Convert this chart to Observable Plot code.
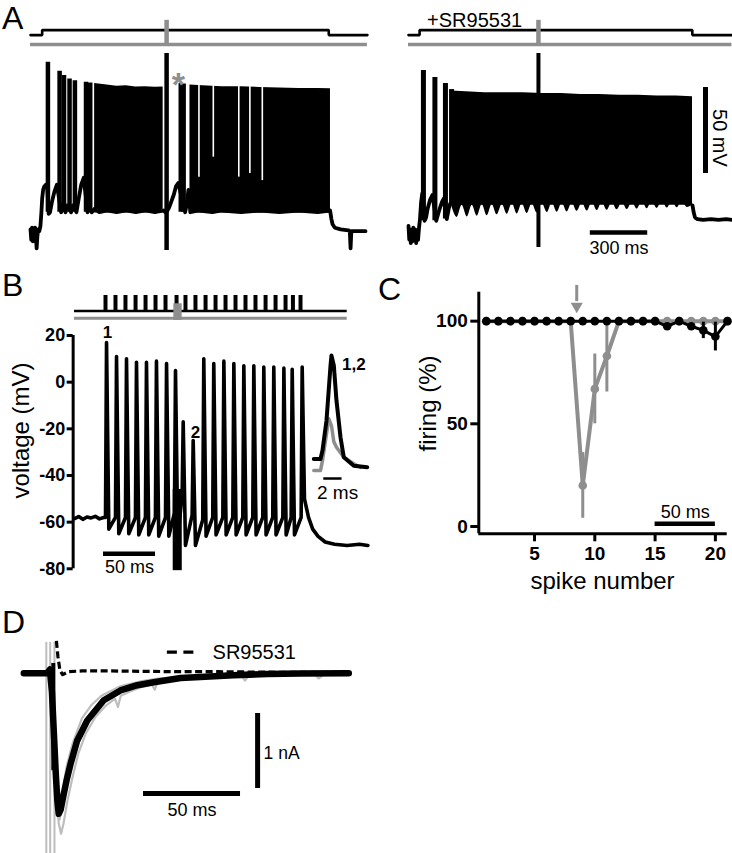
<!DOCTYPE html>
<html><head><meta charset="utf-8">
<script src="https://cdn.jsdelivr.net/npm/d3@7"></script>
<script src="https://cdn.jsdelivr.net/npm/@observablehq/plot@0.6"></script>
<style>
html,body{margin:0;padding:0;background:#fff;}
#fig{position:relative;width:732px;height:853px;overflow:hidden;font-family:"Liberation Sans",Arial,Helvetica,sans-serif;}
#fig svg{position:absolute;left:0;top:0;}
.letter{position:absolute;font-size:32px;line-height:1;color:#000;z-index:5;}
</style></head><body>
<div id="fig">
<div class="letter" style="left:2px;top:2px">A</div>
<div class="letter" style="left:2px;top:269px">B</div>
<div class="letter" style="left:378px;top:273px">C</div>
<div class="letter" style="left:2px;top:606px">D</div>
</div>
<script>
// ================= DATA =================
// ---- Panel A: command (0 = holding, 1 = step) ----
const aLeftCmdT = [0, 61, 61, 1558, 1558, 1760];
const aLeftCmdLevel = [0, 0, 1, 1, 0, 0];
const aRightCmdT = [0, 58, 58, 1483, 1483, 1690];
const aRightCmdLevel = [0, 0, 1, 1, 0, 0];
const aLeftStimT = 711;
const aRightStimT = 679;

// ---- Panel A left: membrane potential (ms, mV) ----
const aLeftTraceT = [0,4,8,12,16,20,24,28,32,36,40,46,52,57,61,66,72,80,88,
  95,102,112,125,138, 160,168,183,192, 212,222,240,252,265,278,
  298,305,320,335,360,400,450,500,550,600,650,695,705,
  716,725,735,748,760,772, 808,815,825,835,880,950,1000,1100,1200,1300,1400,1500,1565,
  1572,1578,1590,1620,1660,1668,1672,1676,1700,1750];
const aLeftTraceV = [-76,-82,-75,-83,-76,-82,-75,-80,-87,-80,-76,-77,-74,-66,-58,-53,-51,-50,-52,
  -67,-66,-60,-54,-50, -66,-62,-66,-62, -66,-62,-66,-58,-50,-46,
  -66,-63,-66,-64,-66,-65,-66,-65,-66,-65,-66,-65,-66,
  -65,-63,-60,-56,-51,-49, -66,-62,-53,-66,-65,-66,-65,-66,-65,-66,-65,-66,-65,
  -70,-73,-75,-76,-76.5,-77,-87,-77,-77,-77];
const aLeftSpikeT = [91, 152, 175, 204, 232, 290, 312, 785, 800];
const aLeftSpikePeak = [21.2, 16, 13.5, 11.5, 10.5, 9.6, 9.2, 8.8, 8.5];
const aLeftBlock1T = [335, 400, 450, 500, 550, 600, 650, 693];
const aLeftBlock1Top = [8.8, 8, 7.2, 7.5, 6.8, 7, 6.6, 6.8];
const aLeftBlock2T = [833, 900, 1000, 1100, 1200, 1300, 1400, 1500, 1567];
const aLeftBlock2Top = [8, 7.5, 7, 7, 6.5, 6.2, 6, 6, 5.8];
const aLeftGapT = [880, 955, 1088, 1146, 1211];
const aLeftGapLow = [-45.6, -34, -45.6, -43.5, -47.6];

// ---- Panel A right (+SR95531) ----
const aRightTraceT = [0,4,8,12,16,20,25,30,35,40,45,50,55,60,66,72, 84,92,100,112,125, 145,160,175,185, 200,210,218,
  1484,1490,1497,1510,1540,1580,1620,1660,1693];
const aRightTraceV = [-74,-82,-76,-84,-77,-83,-75,-82,-76,-84,-77,-82,-75,-70,-60,-55, -71,-69,-64,-59,-56, -71,-65,-60,-58, -70,-64,-61,
  -62,-66,-69,-70,-70.5,-70,-70.5,-70,-70.5];
const aRightSpikeT = [78, 138, 193, 225];
const aRightSpikePeak = [16.4, 12.3, 8.8, 5.3];
const aRightSpikeBase = [-71, -71, -70, -62];
const aRightBlockT = [225, 300, 400, 500, 600, 700, 800, 900, 1000, 1100, 1200, 1300, 1400, 1484];
const aRightBlockTop = [4.5, 4, 3.5, 3.5, 3.5, 3, 3, 2.5, 2.5, 2, 2, 1.5, 1.5, 1.2];
const aRightFloorT = [225,254,280,307,333,359,385,411,437,463,490,516,542,568,594,620,646,672,699,725,751,777,803,829,855,881,908,934,960,986,1012,1038,1064,1090,1117,1143,1169,1195,1221,1247,1273,1299,1326,1352,1378,1404,1430,1456,1484];
const aRightFloorV = [-62,-69,-62,-68.8,-62,-68.3,-61.5,-68,-61.5,-67.5,-61.5,-67.2,-61,-67,-61,-66.8,-61,-66.5,-61,-66.2,-60.5,-66,-60.5,-65.8,-60.5,-65.5,-60.5,-65.3,-60,-65,-60,-64.8,-60,-64.6,-60,-64.4,-60,-64.2,-59.5,-64,-59.5,-63.8,-59.5,-63.6,-59.5,-63.4,-59.5,-63.2,-62];
const aRightBarMv = {t: 1552, lo: -43.5, hi: 6.5};
const aRightBarMs = {v: -77.8, from: 950, to: 1250};

// ---- Panel B ----
const bStimT = [29.8, 39.4, 49, 58.7, 68.3, 77.9, 87.5, 98.1, 106.7, 116.3, 126, 135.6, 145.2, 154.8, 164.4, 174, 183.7, 193.3, 202.9, 210, 217.3];
const bIpscStim = {from: 95.5, to: 103.5};
const bPreT = [0, 4, 8, 12, 16, 20, 24, 28];
const bPreV = [-58.5, -57.6, -58.8, -57.8, -58.2, -57.5, -58.6, -58];
const bSpikeT = [30.8, 40.4, 50, 59.6, 69.2, 78.8, 88.5, 97.1, 104.5, 114.1, 124.3, 133.9, 143.6, 153.2, 162.8, 172.4, 182, 191.6, 201.3, 209.3, 218.9];
const bPeak = [17, 11, 10, 8.5, 8.5, 9, 8, 5, -17, -25, 10, 8, 9, 8, 7, 7, 6.5, 6.5, 6, 5.5, 6.5];
const bThreshold = [-58, -58, -58, -58, -58, -58, -58, -56, -48, -57, -59, -58, -58, -58, -58, -58, -58, -58, -58, -58, -58];
const bTrough = [-63, -65, -65, -65.5, -65.5, -66, -66, -67, -70, -70, -66, -65.5, -65.5, -65.5, -65.5, -65.5, -65.5, -65.5, -65.5, -65.5, -50];
const bPostT = [225, 229, 234, 241, 250, 262, 274, 282];
const bPostV = [-58, -63, -66, -68.5, -69.5, -70, -69.5, -70];
const bArtifact = {t1: 94.9, t2: 103.6, v1: -80.8, v2: -46};
const bYTicks = [-80, -60, -40, -20, 0, 20];
const bAxisT = -1.3;
const bBar = {v: -73.5, from: 27.9, to: 77.9};
// inset (ms from inset start, mV)
const bInsetBlackT = [0, 0.73, 0.95, 1.39, 1.83, 1.93, 2.19, 2.48, 2.92, 3.28, 4.37, 5.84];
const bInsetBlackV = [-32.9, -32.9, -29.3, -16.4, 7.2, 11.4, 7.2, -7.9, -23.6, -32.2, -35.8, -36.5];
const bInsetGrayT = [0, 0.73, 0.95, 1.28, 1.64, 1.93, 2.19, 2.48, 3.28, 4.37, 5.1];
const bInsetGrayV = [-37.9, -37.9, -33.6, -25, -15.7, -18.6, -25.5, -27.9, -32.2, -35, -36.5];
const bInsetBar = {v: -41.3, from: 1.09, to: 3.09};

// ---- Panel C ----
const cSpikeNumber = [1,2,3,4,5,6,7,8,9,10,11,12,13,14,15,16,17,18,19,20,21];
const cGrayFiring = [100,100,100,100,100,100,100,100,20,67,83,100,100,100,100,100,100,100,100,100,100];
const cGraySem = [0,0,0,0,0,0,0,0,16,17,17.5,0,0,0,0,0,0,0,0,0,0];
const cBlackFiring = [100,100,100,100,100,100,100,100,100,100,100,100,100,100,100,97.5,100,97.5,95.5,92.5,100];
const cBlackSem = [0,0,0,0,0,0,0,0,0,0,0,0,0,0,0,0,0,0,4,7,0];
const cYTicks = [0, 50, 100];
const cXTicks = [5, 10, 15, 20];
const cArrow = {x: 8.5, top: 117.4, bottom: 109.5, head: 107.3};
const cBar = {v: 1.3, from: 15, to: 20};

// ---- Panel D (ms, nA) ----
const dBlackT = [0, 6, 12, 13.5, 14.5, 15.5, 16.5, 17.3, 18, 19, 20.6, 22.3, 24.1, 27.5, 32.7, 41.2, 49.8, 58.5, 67, 80.8, 91, 108, 125.5, 142.6, 167.5];
const dBlackI = [0, 0, 0, 0.05, -0.25, -0.8, -1.35, -1.7, -1.875, -1.82, -1.61, -1.4, -1.21, -0.9, -0.63, -0.36, -0.23, -0.16, -0.12, -0.065, -0.05, -0.027, -0.01, -0.005, 0];
const dGray1T = [0, 12, 13.5, 15, 16.5, 18, 19.2, 20.5, 22.5, 25, 28, 32, 37, 42, 47, 48.5, 50, 55, 60, 66, 67.5, 69, 75, 85, 95, 105, 112, 114, 116, 125, 140, 150, 152, 155, 165, 167.5];
const dGray1I = [0, 0.02, -0.1, -0.6, -1.4, -2.0, -2.14, -2.0, -1.7, -1.4, -1.08, -0.8, -0.58, -0.44, -0.34, -0.45, -0.3, -0.24, -0.19, -0.15, -0.22, -0.12, -0.09, -0.06, -0.05, -0.04, -0.03, -0.1, -0.03, -0.02, -0.01, -0.01, -0.07, -0.01, 0, 0];
const dGray2T = [0, 12, 14, 16, 17.5, 18.5, 20, 22, 25, 30, 35, 40, 50, 60, 70, 90, 120, 167.5];
const dGray2I = [0, 0, -0.3, -1.2, -1.9, -1.95, -1.6, -1.25, -0.95, -0.6, -0.42, -0.3, -0.17, -0.11, -0.07, -0.04, -0.02, 0];
const dStimLinesT = [11.6, 13.6, 15.8];
const dSrT = [16.8, 17.6, 18.6, 20, 23, 30, 45, 60, 80, 100, 120, 140, 167.5];
const dSrI = [0.43, 0.22, 0.04, -0.02, 0.02, 0.03, 0.03, 0.025, 0.02, 0.02, 0.015, 0.01, 0.01];
const dBarNa = {t: 120.5, lo: -1.537, hi: -0.537};
const dBarMs = {i: -1.604, from: 61.7, to: 111.7};
const dLegend = {i: 0.28, from: 74, to: 87.7};

// ================= DRAWING =================
const FONT = '"Liberation Sans", Arial, Helvetica, sans-serif';
const GRAY = "#8e8e8e";
const LIGHT = "#bdbdbd";
const fig = document.getElementById("fig");
const zip = (xs, ys) => xs.map((x, i) => ({x, y: ys[i]}));

function add(opts) {
  const svg = Plot.plot({
    width: 732, height: 853,
    marginLeft: 0, marginRight: 0, marginTop: 0, marginBottom: 0,
    style: {background: "transparent", fontFamily: FONT, overflow: "visible"},
    ...opts
  });
  fig.appendChild(svg);
}

// ---- A left command ----
add({
  x: {domain: [0, 1750], range: [30, 365], axis: null},
  y: {domain: [0, 1], range: [34.6, 29.6], axis: null},
  marks: [
    Plot.ruleY([-1.9], {x1: 0, x2: 1760, stroke: GRAY, strokeWidth: 3.5}),
    Plot.line(zip(aLeftCmdT, aLeftCmdLevel), {x: "x", y: "y", stroke: "black", strokeWidth: 2.6, strokeLinejoin: "miter"}),
    Plot.ruleX([aLeftStimT], {y1: -1.9, y2: 2.95, stroke: GRAY, strokeWidth: 4.5})
  ]
});
// ---- A right command ----
add({
  x: {domain: [0, 1693], range: [408, 732], axis: null},
  y: {domain: [0, 1], range: [34.6, 29.6], axis: null},
  marks: [
    Plot.ruleY([-1.9], {x1: 0, x2: 1690, stroke: GRAY, strokeWidth: 3.5}),
    Plot.line(zip(aRightCmdT, aRightCmdLevel), {x: "x", y: "y", stroke: "black", strokeWidth: 2.6, strokeLinejoin: "miter"}),
    Plot.ruleX([aRightStimT], {y1: -1.9, y2: 2.95, stroke: GRAY, strokeWidth: 4.5}),
    Plot.text(["+SR95531"], {x: 97, y: 3.0, textAnchor: "start", fontSize: 20})
  ]
});
// ---- A left voltage ----
add({
  x: {domain: [0, 1750], range: [30, 365], axis: null},
  y: {domain: [-65, 5], range: [210, 89.6], axis: null},
  marks: [
    Plot.areaY(zip(aLeftBlock1T, aLeftBlock1Top), {x: "x", y1: -66.5, y2: "y", fill: "black"}),
    Plot.areaY(zip(aLeftBlock2T, aLeftBlock2Top), {x: "x", y1: -66.5, y2: "y", fill: "black"}),
    Plot.ruleX(zip(aLeftGapT, aLeftGapLow), {x: "x", y1: "y", y2: 10, stroke: "white", strokeWidth: 1.6}),
    Plot.line(zip(aLeftTraceT, aLeftTraceV), {x: "x", y: "y", stroke: "black", strokeWidth: 3.8}),
    Plot.ruleX(zip(aLeftSpikeT, aLeftSpikePeak), {x: "x", y1: -66, y2: "y", stroke: "black", strokeWidth: 4.5}),
    Plot.ruleX([aLeftStimT], {y1: -88.3, y2: 26.3, stroke: "black", strokeWidth: 4.5}),
    Plot.text(["*"], {x: 773, y: 7.8, fill: GRAY, fontSize: 34, fontWeight: "bold"})
  ]
});
// ---- A right voltage ----
add({
  x: {domain: [0, 1693], range: [408, 732], axis: null},
  y: {domain: [-65, 5], range: [210, 89.6], axis: null},
  marks: [
    Plot.areaY(zip(aRightBlockT, aRightBlockTop), {x: "x", y1: -62, y2: "y", fill: "black"}),
    Plot.areaY(zip(aRightFloorT, aRightFloorV), {x: "x", y1: "y", y2: -56, fill: "black", curve: "monotone-x"}),
    Plot.line(zip(aRightTraceT.slice(0, 28), aRightTraceV.slice(0, 28)), {x: "x", y: "y", stroke: "black", strokeWidth: 3.8}),
    Plot.line(zip(aRightTraceT.slice(28), aRightTraceV.slice(28)), {x: "x", y: "y", stroke: "black", strokeWidth: 3.8}),
    Plot.ruleX(aRightSpikeT.map((t, i) => ({t, lo: aRightSpikeBase[i], hi: aRightSpikePeak[i]})), {x: "t", y1: "lo", y2: "hi", stroke: "black", strokeWidth: 5}),
    Plot.ruleX([aRightStimT], {y1: -86.5, y2: 26.3, stroke: "black", strokeWidth: 4}),
    Plot.ruleX([aRightBarMv], {x: "t", y1: "lo", y2: "hi", stroke: "black", strokeWidth: 5}),
    Plot.text(["50 mV"], {x: 1625, y: -22.8, rotate: 90, fontSize: 20}),
    Plot.ruleY([aRightBarMs], {y: "v", x1: "from", x2: "to", stroke: "black", strokeWidth: 4.5}),
    Plot.text(["300 ms"], {x: 1100, y: -87, fontSize: 18})
  ]
});

// ---- B command ----
add({
  x: {domain: [0, 281.7], range: [74, 367], axis: null},
  y: {domain: [0, 1], range: [310.5, 295], axis: null},
  marks: [
    Plot.ruleY([-0.465], {x1: 0, x2: 262.2, stroke: GRAY, strokeWidth: 3}),
    Plot.ruleY([0], {x1: 0, x2: 262.2, stroke: "black", strokeWidth: 2.6}),
    Plot.ruleX(bStimT, {y1: 0, y2: 1, stroke: "black", strokeWidth: 4}),
    Plot.rect([bIpscStim], {x1: "from", x2: "to", y1: -0.61, y2: 0.465, fill: GRAY})
  ]
});
// ---- B voltage ----
const bTrace = [];
bPreT.forEach((t, i) => bTrace.push({x: t, y: bPreV[i]}));
bSpikeT.forEach((t, i) => {
  bTrace.push({x: t - 1, y: bThreshold[i]});
  bTrace.push({x: t, y: bPeak[i]});
  bTrace.push({x: t + 2.2, y: bTrough[i]});
});
bPostT.forEach((t, i) => bTrace.push({x: t, y: bPostV[i]}));
add({
  marginLeft: 72.65, marginTop: 335, marginBottom: 284.7, marginRight: 365,
  x: {domain: [0, 281.7], range: [74, 367], axis: null},
  y: {domain: [-80, 20], range: [568.3, 335]},
  marks: [
    Plot.ruleX([bAxisT], {y1: -80, y2: 20, stroke: "black", strokeWidth: 3}),
    Plot.axisY({ticks: bYTicks, tickSize: 6, tickPadding: 2, strokeWidth: 3, fontSize: 18, fontWeight: "bold", tickFormat: d => String(d), label: null}),
    Plot.rect([bArtifact], {x1: "t1", x2: "t2", y1: "v1", y2: "v2", fill: "black"}),
    Plot.line(bTrace, {x: "x", y: "y", stroke: "black", strokeWidth: 3.6}),
    Plot.ruleY([bBar], {y: "v", x1: "from", x2: "to", stroke: "black", strokeWidth: 4.5}),
    Plot.text(["50 ms"], {x: 52.9, y: -79.5, fontSize: 18}),
    Plot.text(["1"], {x: 31.7, y: 21.3, fontSize: 17, fontWeight: "bold"}),
    Plot.text(["2"], {x: 116.3, y: -21.6, fontSize: 17, fontWeight: "bold"}),
    Plot.text(["voltage (mV)"], {x: -51.2, y: -20.7, rotate: -90, fontSize: 24})
  ]
});
// ---- B inset ----
add({
  x: {domain: [0, 5.84], range: [313.3, 366.7], axis: null},
  y: {domain: [-80, 20], range: [568.3, 335], axis: null},
  marks: [
    Plot.line(zip(bInsetGrayT, bInsetGrayV), {x: "x", y: "y", stroke: GRAY, strokeWidth: 3.5}),
    Plot.line(zip(bInsetBlackT, bInsetBlackV), {x: "x", y: "y", stroke: "black", strokeWidth: 4}),
    Plot.ruleY([bInsetBar], {y: "v", x1: "from", x2: "to", stroke: "black", strokeWidth: 2.5}),
    Plot.text(["2 ms"], {x: 2.6, y: -47.3, fontSize: 19}),
    Plot.text(["1,2"], {x: 4.38, y: 7.6, fontSize: 17, fontWeight: "bold"})
  ]
});

// ---- C ----
const cGray = cSpikeNumber.map((n, i) => ({n, f: cGrayFiring[i], s: cGraySem[i]}));
const cBlack = cSpikeNumber.map((n, i) => ({n, f: cBlackFiring[i], s: cBlackSem[i]}));
add({
  marginLeft: 478.3, marginRight: 5.3, marginTop: 291.7, marginBottom: 319.7,
  x: {domain: [0.378, 20.98], range: [478.3, 726.7]},
  y: {domain: [-3.56, 114.1], range: [533.3, 291.7]},
  marks: [
    Plot.ruleX([0.378], {y1: -3.56, y2: 114.1, stroke: "black", strokeWidth: 3}),
    Plot.ruleY([-3.56], {x1: 0.378, x2: 20.98, stroke: "black", strokeWidth: 3}),
    Plot.axisY({ticks: cYTicks, tickSize: 8, tickPadding: 3, strokeWidth: 3, fontSize: 19, fontWeight: "bold", label: null}),
    Plot.axisX({ticks: cXTicks, tickSize: 8, tickPadding: 5, strokeWidth: 3, fontSize: 19, fontWeight: "bold", label: null}),
    Plot.ruleX(cGray.filter(d => d.s > 0), {x: "n", y1: d => d.f - d.s, y2: d => d.f + d.s, stroke: GRAY, strokeWidth: 3}),
    Plot.line(cGray, {x: "n", y: "f", stroke: GRAY, strokeWidth: 4}),
    Plot.dot(cGray, {x: "n", y: "f", r: 4.3, fill: GRAY}),
    Plot.ruleX(cBlack.filter(d => d.s > 0), {x: "n", y1: d => d.f - d.s, y2: d => d.f + d.s, stroke: "black", strokeWidth: 3}),
    Plot.line(cBlack, {x: "n", y: "f", stroke: "black", strokeWidth: 3}),
    Plot.dot(cBlack, {x: "n", y: "f", r: 4.3, fill: "black"}),
    Plot.ruleX([cArrow], {x: "x", y1: "bottom", y2: "top", stroke: GRAY, strokeWidth: 3}),
    Plot.dot([cArrow], {x: "x", y: "head", symbol: "triangle", r: 4.5, fill: GRAY, rotate: 180}),
    Plot.ruleY([cBar], {y: "v", x1: "from", x2: "to", stroke: "black", strokeWidth: 4.5}),
    Plot.text(["50 ms"], {x: 17.5, y: 7, fontSize: 18, fontWeight: "normal"}),
    Plot.text(["firing (%)"], {x: -3.79, y: 59.9, rotate: -90, fontSize: 24, fontWeight: "normal"}),
    Plot.text(["spike number"], {x: 10.64, y: -26.5, fontSize: 24, fontWeight: "normal"})
  ]
});

// ---- D ----
add({
  x: {domain: [0, 167.5], range: [23.3, 348.3], axis: null},
  y: {domain: [0, -2], range: [672.7, 822.7], axis: null},
  marks: [
    Plot.ruleX(dStimLinesT, {y1: -2.6, y2: 0.41, stroke: LIGHT, strokeWidth: 2}),
    Plot.line(zip(dGray1T, dGray1I), {x: "x", y: "y", stroke: LIGHT, strokeWidth: 2.2}),
    Plot.line(zip(dGray2T, dGray2I), {x: "x", y: "y", stroke: LIGHT, strokeWidth: 2.2}),
    Plot.line(zip(dBlackT, dBlackI), {x: "x", y: "y", stroke: "black", strokeWidth: 6.5}),
    Plot.ruleX([15.2], {y1: -1.3, y2: 0.13, stroke: "black", strokeWidth: 4}),
    Plot.line(zip(dSrT, dSrI), {x: "x", y: "y", stroke: "black", strokeWidth: 3.2, strokeDasharray: "7,3.5", strokeLinecap: "butt"}),
    Plot.ruleY([dLegend], {y: "i", x1: "from", x2: "to", stroke: "black", strokeWidth: 3.3, strokeDasharray: "10,6.5"}),
    Plot.text(["SR95531"], {x: 97.3, y: 0.28, textAnchor: "start", fontSize: 20}),
    Plot.ruleX([dBarNa], {x: "t", y1: "lo", y2: "hi", stroke: "black", strokeWidth: 5}),
    Plot.text(["1 nA"], {x: 123.6, y: -1.07, textAnchor: "start", fontSize: 17.5}),
    Plot.ruleY([dBarMs], {y: "i", x1: "from", x2: "to", stroke: "black", strokeWidth: 5}),
    Plot.text(["50 ms"], {x: 86.7, y: -1.83, fontSize: 18})
  ]
});
</script>
</body></html>
